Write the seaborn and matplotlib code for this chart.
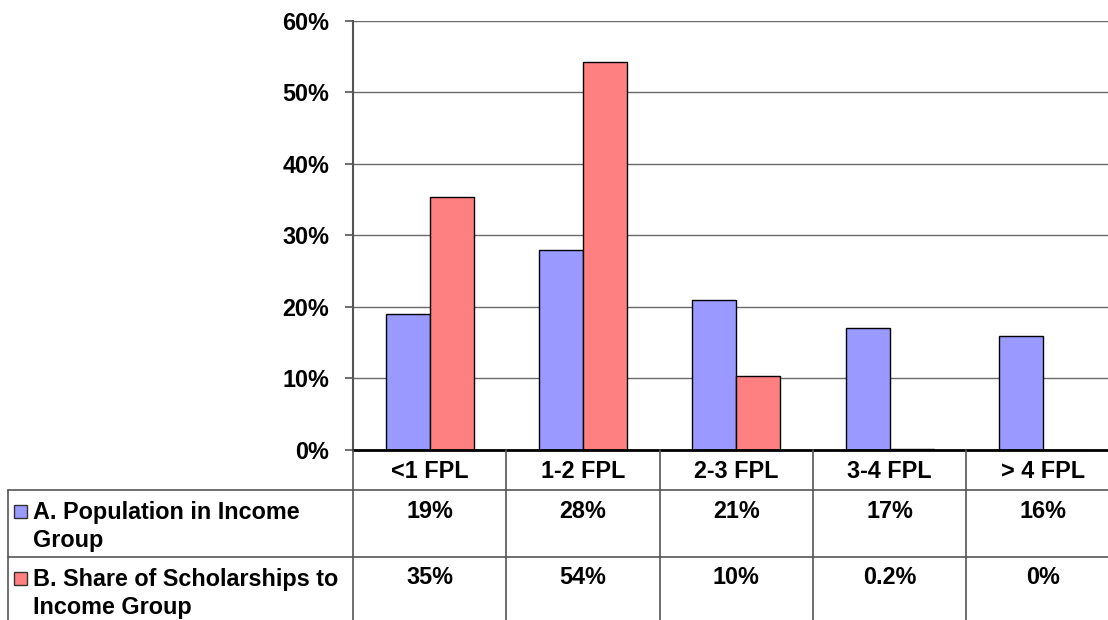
import matplotlib
matplotlib.use("Agg")
import matplotlib.pyplot as plt
import seaborn as sns
import pandas as pd
from matplotlib.lines import Line2D
from matplotlib.patches import Rectangle
from matplotlib.ticker import FuncFormatter

categories = ["<1 FPL", "1-2 FPL", "2-3 FPL", "3-4 FPL", "> 4 FPL"]
series_names = ["A. Population in Income\nGroup", "B. Share of Scholarships to\nIncome Group"]
population = [19, 28, 21, 17, 16]
scholarships = [35.3, 54.2, 10.4, 0.2, 0]
population_labels = ["19%", "28%", "21%", "17%", "16%"]
scholarship_labels = ["35%", "54%", "10%", "0.2%", "0%"]
yticks = [0, 10, 20, 30, 40, 50, 60]

colors = ["#9999FF", "#FF8080"]

sns.set_theme(style="white")
plt.rcParams["font.family"] = ["Liberation Sans", "DejaVu Sans"]
plt.rcParams["font.weight"] = "bold"
plt.rcParams["text.color"] = "black"
FS = 16.8

df = pd.DataFrame({
    "cat": categories * 2,
    "value": population + scholarships,
    "series": ["A"] * len(categories) + ["B"] * len(categories),
})

W, H = 1108, 620
fig = plt.figure(figsize=(W / 100, H / 100), dpi=100)
ax = fig.add_axes([353 / W, 1 - 450 / H, (1119.5 - 353) / W, (450 - 20.7) / H])

sns.barplot(data=df, x="cat", y="value", hue="series", palette=colors,
            order=categories, width=0.574, gap=0, edgecolor="black",
            linewidth=1.0, legend=False, ax=ax, saturation=1)

ax.set_xlim(-0.5, len(categories) - 0.5)
ax.set_ylim(0, 60)
ax.set_yticks(yticks)
ax.yaxis.set_major_formatter(FuncFormatter(lambda v, p: f"{v:.0f}%"))
ax.yaxis.grid(True, color="#6a6a6a", linewidth=1.0)
ax.set_axisbelow(True)
ax.set_xlabel("")
ax.set_ylabel("")
ax.set_xticks([])
for s in ["top", "right"]:
    ax.spines[s].set_visible(False)
ax.spines["left"].set_color("#555555")
ax.spines["left"].set_linewidth(1.5)
ax.spines["bottom"].set_color("black")
ax.spines["bottom"].set_linewidth(2.0)
ax.tick_params(axis="y", left=True, length=6, width=1.2, color="#555555",
               pad=11, labelsize=FS, labelcolor="black")
for t in ax.get_yticklabels():
    t.set_fontweight("bold")

# data table overlay in pixel coordinates
ov = fig.add_axes([0, 0, 1, 1])
ov.set_xlim(0, W)
ov.set_ylim(H, 0)
ov.axis("off")
ov.patch.set_alpha(0)

fig.canvas.draw()

def px_x(xdata):
    return ax.transData.transform((xdata, 0))[0] * W / fig.bbox.width

bounds = [px_x(i - 0.5) for i in range(len(categories) + 1)]
centers = [px_x(i) for i in range(len(categories))]

y_axis, y_head, y_row, y_bot = 450, 490, 557, 640
lc = "#555555"
lw = 1.2
for b in bounds:
    ov.add_line(Line2D([b, b], [y_axis, y_bot], color=lc, lw=lw))
ov.add_line(Line2D([8, 8], [y_head, y_bot], color=lc, lw=lw))
for yy in [y_head, y_row]:
    ov.add_line(Line2D([8, W + 20], [yy, yy], color=lc, lw=lw))

tk = dict(ha="center", va="center", fontsize=FS, fontweight="bold", color="black")
for c, lab in zip(centers, categories):
    ov.text(c, 471, lab, **tk)
for c, lab in zip(centers, population_labels):
    ov.text(c, 511, lab, **tk)
for c, lab in zip(centers, scholarship_labels):
    ov.text(c, 578, lab, **tk)

row_tops = [504, 571]
for ytop, name, col in zip(row_tops, series_names, colors):
    ov.add_patch(Rectangle((14, ytop + 1), 13, 13, facecolor=col,
                           edgecolor="#333333", lw=1))
    ov.text(33, ytop - 3, name, ha="left", va="top", fontsize=FS,
            fontweight="bold", color="black", linespacing=1.27)

fig.savefig("out.png", dpi=100)
